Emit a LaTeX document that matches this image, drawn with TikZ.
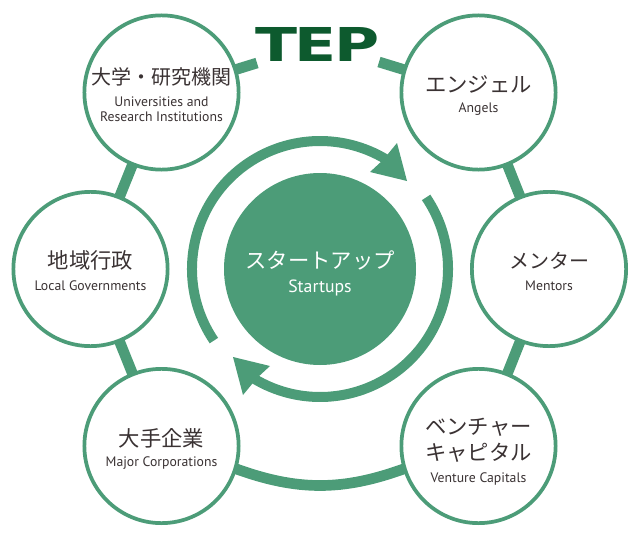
\documentclass[tikz,border=0pt]{standalone}
\usepackage{fontspec}
\setmainfont{PT Sans}
\newfontfamily\jpfont{Noto Sans CJK JP}
\newfontfamily\logofont{DejaVu Sans}[BoldFont={DejaVu Sans Bold}]
\definecolor{tepgreen}{HTML}{4C9C78}
\definecolor{logogreen}{HTML}{0D5A2E}
\definecolor{inktext}{HTML}{3A3233}
\tikzset{
  partner/.style={circle,draw=tepgreen,line width=2.8pt,fill=white,minimum size=115.7pt,inner sep=0pt,outer sep=0pt},
  hub/.style={circle,fill=tepgreen,minimum size=144pt,inner sep=0pt,outer sep=0pt},
  link/.style={draw=tepgreen,line width=8pt},
  cycle/.style={draw=tepgreen,line width=7.5pt},
  head/.style={fill=tepgreen},
  jp/.style={text=inktext,font=\jpfont\fontsize{16}{18}\selectfont,inner sep=0pt},
  en/.style={text=inktext,font=\fontsize{10.3}{12}\selectfont,inner sep=0pt},
}
\begin{document}
\begin{tikzpicture}[x=0.75pt,y=-0.75pt]
\useasboundingbox (0,0) rectangle (640,539);
% hub and partner circles
\node[hub] (hub) at (320,269) {};
\node[partner] (uni) at (161.5,92.5) {};
\node[partner] (angel) at (478.5,92.5) {};
\node[partner] (mentor) at (549,269) {};
\node[partner] (vc) at (478.5,446) {};
\node[partner] (corp) at (161.5,446) {};
\node[partner] (gov) at (90.5,269) {};
% logo
\node[text=logogreen,inner sep=0pt,xscale=1.32] (tep) at (317.5,44) {\logofont\bfseries\fontsize{35}{36}\selectfont T\kern-.035em E\kern-.035em P};
\coordinate (tepL) at (257,63);
\coordinate (tepR) at (379,62);
% connectors
\draw[link] (uni) -- (tepL);
\draw[link] (angel) -- (tepR);
\draw[link] (uni) -- (gov);
\draw[link] (gov) -- (corp);
\draw[link] (angel) -- (mentor);
\draw[link] (mentor) -- (vc);
\draw[link] (corp.-17.6) to[bend right=20] (vc.197.6);
% cycle arrows
\draw[cycle] (hub.center) ++(214:96pt) arc[start angle=214,end angle=59,radius=96pt];
\draw[cycle] (hub.center) ++(34:96pt) arc[start angle=34,end angle=-121,radius=96pt];
\fill[head] (407,181) -- (397,143) -- (383,160) -- (370,172) -- cycle;
\fill[head] (233,357) -- (243,395) -- (257,378) -- (270,366) -- cycle;
% texts
\node[jp,text=white] (t1) at (320,260) {スタートアップ};
\node[en,text=white,font=\fontsize{13.3}{15}\selectfont] (t2) at (320,288) {Startups};
\node[jp,font=\jpfont\fontsize{15}{18}\selectfont] (t3) at (161.5,77) {大学・研究機関};
\node[en] (t4) at (161.5,102) {Universities and};
\node[en] (t5) at (161.5,117) {Research Institutions};
\node[jp] (t6) at (478.5,84) {エンジェル};
\node[en] (t7) at (478.5,109) {Angels};
\node[jp,font=\jpfont\fontsize{15}{18}\selectfont] (t8) at (549,261) {メンター};
\node[en] (t9) at (549,286) {Mentors};
\node[jp] (t10) at (478.5,427) {ベンチャー};
\node[jp] (t11) at (478.5,453) {キャピタル};
\node[en] (t12) at (478.5,479) {Venture Capitals};
\node[jp] (t13) at (161.5,438) {大手企業};
\node[en] (t14) at (161.5,463) {Major Corporations};
\node[jp] (t15) at (90.5,260) {地域行政};
\node[en] (t16) at (90.5,286) {Local Governments};
\end{tikzpicture}
\end{document}
